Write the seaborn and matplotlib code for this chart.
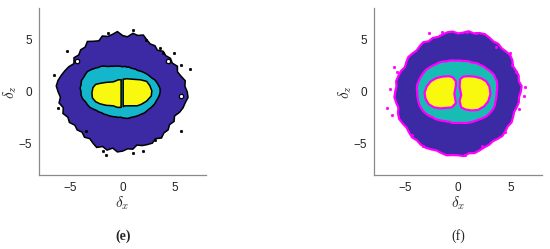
import numpy as np
import pandas as pd
import seaborn as sns
from matplotlib import pyplot as plt

sns.set_style('white')
plt.rcParams['font.family'] = ['Liberation Sans', 'DejaVu Sans']
plt.rcParams['mathtext.fontset'] = 'cm'

# angles of the boundary samples (degrees, counter-clockwise from +x)
angles = np.arange(0, 360, 5)

# panel (e): radius of each region boundary at those angles
e_outer = [6.2, 6.0, 6.1, 5.8, 5.6, 5.8, 5.5, 5.6, 5.4, 5.5, 5.2, 5.4, 5.3, 5.5, 5.8, 5.6,
           5.7, 5.3, 5.4, 5.8, 5.6, 5.5, 5.7, 5.4, 5.6, 5.9, 5.6, 5.7, 5.5, 5.7, 5.4, 5.7,
           5.9, 6.1, 6.3, 6.4, 6.2, 6.0, 6.2, 5.9, 6.1, 5.8, 5.9, 5.6, 5.7, 5.5, 5.7, 5.5,
           5.7, 5.9, 5.6, 5.8, 5.5, 5.8, 5.7, 5.5, 5.6, 5.3, 5.5, 5.6, 5.7, 5.5, 5.8, 5.6,
           5.7, 5.5, 5.7, 5.5, 5.8, 6.0, 6.1, 6.3]
e_mid = [3.6, 3.6, 3.5, 3.4, 3.3, 3.1, 3.0, 2.9, 2.8, 2.7, 2.6, 2.5, 2.5, 2.45, 2.4, 2.45,
         2.4, 2.45, 2.4, 2.45, 2.5, 2.55, 2.6, 2.7, 2.8, 3.0, 3.2, 3.3, 3.5, 3.7, 3.9, 3.95,
         4.0, 4.1, 4.05, 4.1, 4.0, 4.0, 3.9, 3.7, 3.6, 3.5, 3.3, 3.1, 3.0, 2.85, 2.8, 2.7,
         2.65, 2.6, 2.55, 2.5, 2.5, 2.45, 2.5, 2.55, 2.6, 2.6, 2.6, 2.65, 2.7, 2.75, 2.8, 2.9,
         2.95, 3.0, 3.1, 3.2, 3.3, 3.35, 3.45, 3.55]
e_left_x = [-0.15, -0.4, -0.9, -1.6, -2.2, -2.6, -2.85, -2.95, -2.9, -2.6, -2.2, -1.6, -0.9, -0.5, -0.15]
e_left_y = [1.15, 1.15, 0.95, 0.9, 0.8, 0.7, 0.4, -0.1, -0.6, -0.95, -1.15, -1.3, -1.35, -1.5, -1.5]
e_right_x = [0.05, 0.4, 1.0, 1.7, 2.3, 2.6, 2.8, 2.75, 2.3, 1.8, 1.4, 0.8, 0.2, 0.05]
e_right_y = [1.2, 1.25, 1.2, 1.15, 1.0, 0.6, 0.1, -0.4, -0.9, -1.2, -1.35, -1.35, -1.35, -1.45]
e_holes_x = [-4.4, 5.6, 4.4]
e_holes_y = [3.0, -0.45, 3.0]
e_dots_x = [-1.4, 1.0, 2.2, 3.6, 3.9, 4.9, 5.6, 6.5, -6.6, -5.3, -6.2, 5.6, 3.1, 2.0, 1.0, -1.6, -1.9, -3.5]
e_dots_y = [5.6, 5.9, 5.0, 4.2, 3.7, 3.7, 2.6, 2.2, 1.6, 3.9, -1.6, -3.8, -4.6, -5.7, -5.9, -6.1, -5.7, -3.8]

# panel (f)
f_outer = [6.0, 6.1, 5.9, 6.0, 5.9, 5.8, 6.0, 6.1, 6.0, 5.9, 6.0, 5.9, 6.0, 6.1, 6.0, 5.8,
           5.9, 5.7, 5.6, 5.8, 5.8, 5.7, 5.6, 5.7, 5.6, 5.8, 5.7, 5.6, 5.7, 5.8, 5.7, 5.6,
           5.8, 5.9, 6.0, 5.9, 6.0, 6.1, 6.0, 5.9, 6.1, 6.2, 6.1, 6.0, 6.1, 6.2, 6.1, 6.2,
           6.2, 6.1, 6.0, 6.1, 6.2, 6.1, 6.1, 6.2, 6.0, 6.1, 6.0, 5.9, 5.9, 5.8, 5.9, 6.0,
           5.9, 5.8, 5.9, 5.8, 5.7, 5.8, 5.9, 5.85]
f_mid = [3.7, 3.75, 3.8, 3.85, 3.8, 3.8, 3.7, 3.6, 3.5, 3.45, 3.35, 3.3, 3.2, 3.1, 3.1, 3.05,
         3.0, 3.0, 3.0, 3.0, 3.05, 3.1, 3.1, 3.2, 3.3, 3.35, 3.4, 3.5, 3.6, 3.7, 3.75, 3.8,
         3.85, 3.9, 3.95, 3.95, 3.9, 3.9, 3.9, 3.9, 3.9, 3.85, 3.8, 3.7, 3.6, 3.45, 3.4, 3.3,
         3.2, 3.1, 3.05, 3.0, 3.05, 3.0, 3.0, 3.0, 3.05, 3.1, 3.15, 3.2, 3.25, 3.3, 3.4, 3.5,
         3.6, 3.65, 3.7, 3.75, 3.75, 3.7, 3.7, 3.7]
f_left_x = [-0.2, -0.5, -0.9, -1.5, -2.1, -2.6, -3.0, -3.2, -3.1, -2.8, -2.3, -1.7, -1.1, -0.6, -0.2, -0.35, -0.2]
f_left_y = [1.0, 1.4, 1.5, 1.45, 1.3, 1.0, 0.5, -0.1, -0.7, -1.2, -1.5, -1.6, -1.55, -1.5, -1.1, -0.2, 0.6]
f_right_x = [0.2, 0.5, 1.0, 1.6, 2.2, 2.7, 3.0, 3.1, 2.9, 2.5, 1.9, 1.3, 0.7, 0.3, 0.15, 0.3, 0.15]
f_right_y = [1.2, 1.45, 1.5, 1.45, 1.3, 1.0, 0.5, -0.2, -0.9, -1.4, -1.75, -1.8, -1.7, -1.5, -0.9, -0.3, 0.5]
f_dots_x = [-2.8, -1.5, 0.9, 1.7, 3.6, 5.0, 5.2, 5.5, 6.4, 6.3, 5.8, -6.5, -6.8, -6.3, -6.1, -5.8, -4.4, -3.3, 0.7, 2.3, 4.5]
f_dots_y = [5.6, 5.7, 5.7, 5.6, 4.3, 3.7, 2.6, 1.9, 0.5, -0.4, -1.7, 0.3, -1.6, -2.2, 2.4, 1.9, -4.2, -5.2, -6.1, -5.2, -3.9]

purple = '#3B2AA3'
yellow = '#F8F90F'


def ring(radii):
    t = np.deg2rad(angles)
    r = np.array(radii)
    return r * np.cos(t), r * np.sin(t)


def panel(ax, outer, mid, lobes, dots, holes, teal, edge, lw, caption, bold):
    x, y = ring(outer)
    ax.fill(x, y, facecolor=purple, edgecolor=edge, linewidth=lw, zorder=1)
    x, y = ring(mid)
    ax.fill(x, y, facecolor=teal, edgecolor=edge, linewidth=lw, zorder=2)
    for lx, ly in lobes:
        ax.fill(lx, ly, facecolor=yellow, edgecolor=edge, linewidth=lw, zorder=3)
    if holes is not None:
        ax.scatter(holes[0], holes[1], s=10, color='white', edgecolor=edge, linewidth=0.9, zorder=4)
    df = pd.DataFrame({'x': dots[0], 'y': dots[1]})
    sns.scatterplot(data=df, x='x', y='y', ax=ax, s=3, color=edge, edgecolor=edge, linewidth=0.5, zorder=4)

    ax.set_xlim(-8, 8)
    ax.set_ylim(-8, 8)
    ax.set_xticks([-5, 0, 5])
    ax.set_yticks([-5, 0, 5])
    ax.tick_params(length=0, labelsize=8.5, pad=5, labelcolor='#222222')
    sns.despine(ax=ax)
    for s in ['left', 'bottom']:
        ax.spines[s].set_color('#8a8a8a')
        ax.spines[s].set_linewidth(0.9)
    ax.set_xlabel(r'$\delta_x$', fontsize=11, labelpad=0)
    ax.set_ylabel(r'$\delta_z$', fontsize=11, labelpad=0)
    ax.text(0.5, -0.365, caption, transform=ax.transAxes, ha='center', va='center',
            fontsize=10, family='Liberation Serif', fontweight='bold' if bold else 'normal')


fig = plt.figure(figsize=(5.5, 2.49), dpi=100)
ax1 = fig.add_axes([0.0715, 0.297, 0.303, 0.669])
ax2 = fig.add_axes([0.6805, 0.297, 0.3045, 0.669])

panel(ax1, e_outer, e_mid, [(e_left_x, e_left_y), (e_right_x, e_right_y)],
      (e_dots_x, e_dots_y), (e_holes_x, e_holes_y), '#14B6CC', 'black', 1.1, '(e)', True)
panel(ax2, f_outer, f_mid, [(f_left_x, f_left_y), (f_right_x, f_right_y)],
      (f_dots_x, f_dots_y), None, '#17BDB3', '#FF00FF', 1.6, '(f)', False)

fig.savefig('out.png', dpi=100)
